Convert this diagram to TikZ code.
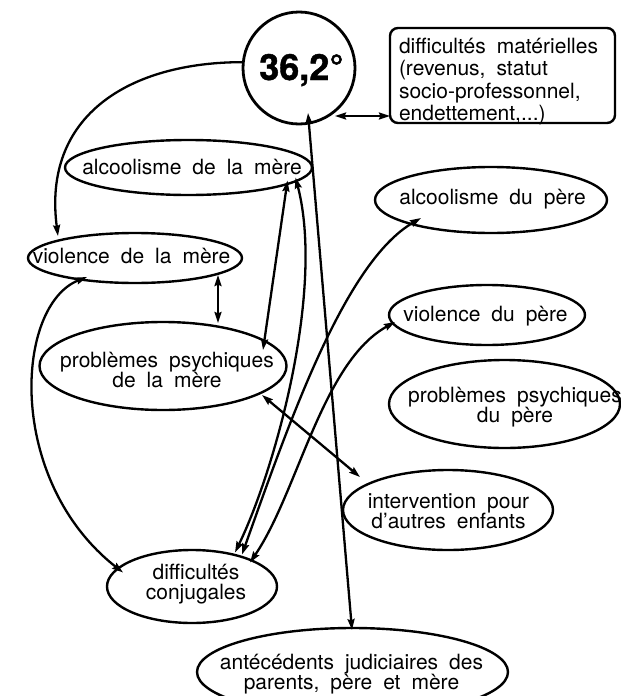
\documentclass[tikz,border=0pt]{standalone}
\usepackage{fontspec}
\setmainfont{TeX Gyre Heros}
\newfontfamily\numfont{TeX Gyre Heros}[FakeBold=1.2]
\usetikzlibrary{shapes.geometric,arrows.meta,calc}
\newcommand\dfont{\fontsize{21}{20.5}\selectfont\spaceskip 11pt plus 2pt minus 2pt\relax}
\newcommand\bfont{\fontsize{21}{22.5}\selectfont\spaceskip 11pt plus 2pt minus 2pt\relax}
\begin{document}
\begin{tikzpicture}[x=1pt,y=-1pt,
  every node/.style={inner sep=0pt, outer sep=0pt},
  ell/.style={draw, ellipse, line width=2.4pt},
  txt/.style={align=center, font=\dfont},
  con/.style={line width=2.3pt, {Stealth[length=11pt,width=7pt,inset=1.5pt]}-{Stealth[length=11pt,width=7pt,inset=1.5pt]}},
  con1/.style={line width=2.3pt, -{Stealth[length=11pt,width=7pt,inset=1.5pt]}}
]
\useasboundingbox (0,0) rectangle (621,696);
% main circle
\node[circle, draw, line width=2.8pt, minimum size=112pt] (C) at (299,68) {};
\node[anchor=base, font=\numfont\fontsize{36}{36}\bfseries\selectfont] (Ct) at (301.5,80) {36,2°};
% box
\node[draw, rounded corners=8pt, line width=2.4pt, minimum width=225pt, minimum height=95pt] (difm) at (502.5,75.5) {};
\node[align=left, anchor=north west, font=\bfont] (difmt) at (399,38)
  {difficultés matérielles\\(revenus, statut\\socio-professonnel,\\endettement,...)};
% ellipses
\node[ell, minimum width=247pt, minimum height=55pt] (alcm) at (188.5,167.5) {};
\node[txt] (alcmt) at (192,167) {alcoolisme de la mère};
\node[ell, minimum width=232pt, minimum height=66pt] (alcp) at (491,200) {};
\node[txt] (alcpt) at (492.5,199) {alcoolisme du père};
\node[ell, minimum width=214pt, minimum height=50pt] (violm) at (135,258) {};
\node[txt] (violmt) at (131.5,256) {violence de la mère};
\node[ell, minimum width=247pt, minimum height=88pt] (psym) at (163,366) {};
\node[txt] (psymt) at (167,370) {problèmes psychiques\\de la mère};
\node[ell, minimum width=196pt, minimum height=60pt] (violp) at (487,315) {};
\node[txt] (violpt) at (485.5,316) {violence du père};
\node[ell, minimum width=231pt, minimum height=88pt] (psyp) at (504.5,404) {};
\node[txt] (psypt) at (515,407) {problèmes psychiques\\du père};
\node[ell, minimum width=210pt, minimum height=80pt] (intv) at (448,510) {};
\node[txt] (intvt) at (448.5,511) {intervention pour\\d'autres enfants};
\node[ell, minimum width=170pt, minimum height=73pt] (dcj) at (192,586.5) {};
\node[txt] (dcjt) at (196,584) {difficultés\\conjugales};
\node[ell, minimum width=311pt, minimum height=88pt] (antj) at (352.5,672) {};
\node[txt] (antjt) at (351.5,674) {antécédents judiciaires des\\parents, père et mère};
% connectors
\draw[con1] (C.174) .. controls (130,62) and (42,115) .. ($(violm.center)+(-77,-22)$);
\draw[con] ($(C.center)+(9,45)$) -- ($(antj.center)+(-0.5,-42)$);
\path ($(C.center)+(36,48)$) coordinate (c3);
\draw[con] (c3) -- (c3 -| difm.west);
\draw[con] ($(alcm.center)+(99,13)$) -- ($(psym.center)+(100,-16)$);
\draw[con] ($(alcm.center)+(107,10)$) .. controls (325,290) and (275,470) .. ($(dcj.center)+(43,-34)$);
\draw[con] ($(alcp.center)+(-70,18)$) .. controls (345,262) and (290,420) .. ($(dcj.center)+(50,-32)$);
\draw[con] ($(violp.center)+(-92,7)$) .. controls (322,362) and (298,492) .. ($(dcj.center)+(58,-24)$);
\draw[con] ($(psym.center)+(99,29)$) -- ($(intv.center)+(-88,-33)$);
\draw[con] ($(violm.center)+(83,17)$) -- ($(psym.center)+(55,-43)$);
\draw[con] ($(violm.center)+(-48,19)$) .. controls (15,305) and (5,480) .. ($(dcj.center)+(-69,-14)$);
\end{tikzpicture}
\end{document}
